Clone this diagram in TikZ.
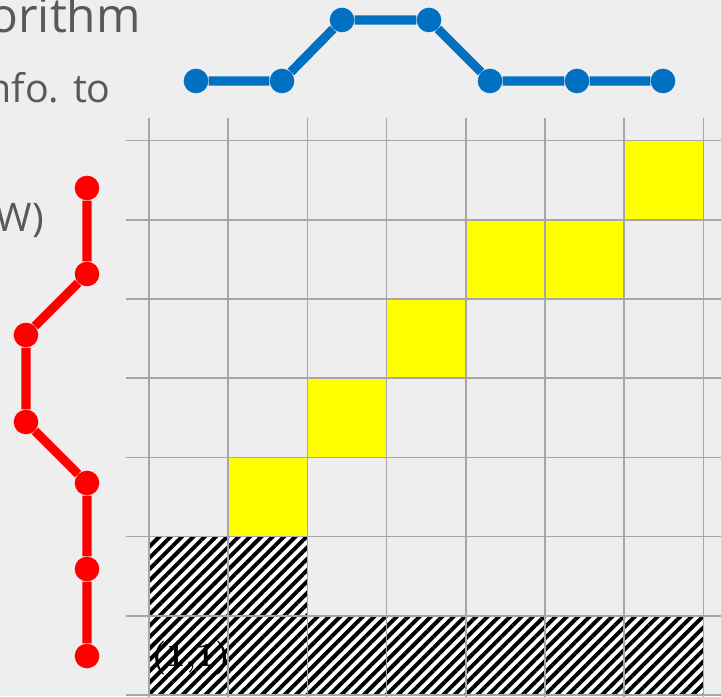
\documentclass[tikz,border=0pt]{standalone}
\usepackage{fontspec}
\usepackage{xcolor}
\usepackage{tikz}
\usetikzlibrary{patterns.meta}
\newfontfamily\slidefont{Open Sans}
\definecolor{cBack}{HTML}{EEEEEE}
\definecolor{cText}{HTML}{595959}
\definecolor{cGrid}{HTML}{A6A6A6}
\definecolor{cBlue}{HTML}{0070C0}
\definecolor{cRed}{HTML}{FF0000}
\definecolor{cMatch}{HTML}{FFFF00}
\tikzset{
  seqdot/.style={circle,fill=#1,inner sep=0pt,minimum size=17.5pt},
  seqline/.style={draw=#1,line width=6.5pt},
  cellgrid/.style={draw=cGrid,line width=1.1pt},
  hatch/.style={preaction={fill=white},pattern={Lines[angle=45,distance=5.7pt,line width=2.8pt]},pattern color=black},
  word/.style={text=cText,inner sep=0pt,anchor=base east},
}

\begin{document}
\begin{tikzpicture}[x=0.025cm,y=0.025cm]
  \useasboundingbox (0,0) rectangle (721,696);
  \clip (0,0) rectangle (721,696);
  \fill[cBack] (0,0) rectangle (721,696);
  % slide text, cut at the left edge
  \node[word,font=\slidefont\fontsize{34pt}{40pt}\selectfont] (ttl) at (141,663) {orithm};
  \node[word,font=\slidefont\fontsize{28pt}{33pt}\selectfont] (ln1) at (111,593) {nfo. to};
  \node[word,font=\slidefont\fontsize{28pt}{33pt}\selectfont] (ln2) at (44,464) {W)};
  % excluded cells
  \path[hatch] (149,1) -- (703.4,1) -- (703.4,80.2) -- (307.4,80.2) -- (307.4,159.4) -- (149,159.4) -- cycle;
  % cost matrix
  \begin{scope}[shift={(149,1)},scale=79.2]
    \fill[cMatch] (1,2) rectangle (2,3);
    \fill[cMatch] (2,3) rectangle (3,4);
    \fill[cMatch] (3,4) rectangle (4,5);
    \fill[cMatch] (4,5) rectangle (6,6);
    \fill[cMatch] (6,6) rectangle (7,7);
    \foreach \i in {0,...,7} {
      \draw[cellgrid] (\i,-0.3) -- (\i,7.29);
      \draw[cellgrid] (-0.29,\i) -- (7.3,\i);
    }
    \node[font=\bfseries\fontsize{24pt}{28pt}\selectfont,anchor=west,inner sep=0pt] (orig) at (0.03,0.47) {(1,1)};
  \end{scope}
  % sequence along the top
  \node[seqdot=cBlue] (b1) at (196,615) {};
  \node[seqdot=cBlue] (b2) at (282,615) {};
  \node[seqdot=cBlue] (b3) at (342,676) {};
  \node[seqdot=cBlue] (b4) at (429,676) {};
  \node[seqdot=cBlue] (b5) at (490,615) {};
  \node[seqdot=cBlue] (b6) at (577,615) {};
  \node[seqdot=cBlue] (b7) at (663,615) {};
  \draw[seqline=cBlue] (b1) -- (b2) -- (b3) -- (b4) -- (b5) -- (b6) -- (b7);
  % sequence along the left
  \node[seqdot=cRed] (r1) at (87,508) {};
  \node[seqdot=cRed] (r2) at (87,422) {};
  \node[seqdot=cRed] (r3) at (26,361) {};
  \node[seqdot=cRed] (r4) at (26,274) {};
  \node[seqdot=cRed] (r5) at (87,213) {};
  \node[seqdot=cRed] (r6) at (87,127) {};
  \node[seqdot=cRed] (r7) at (87,40) {};
  \draw[seqline=cRed] (r1) -- (r2) -- (r3) -- (r4) -- (r5) -- (r6) -- (r7);
\end{tikzpicture}
\end{document}
